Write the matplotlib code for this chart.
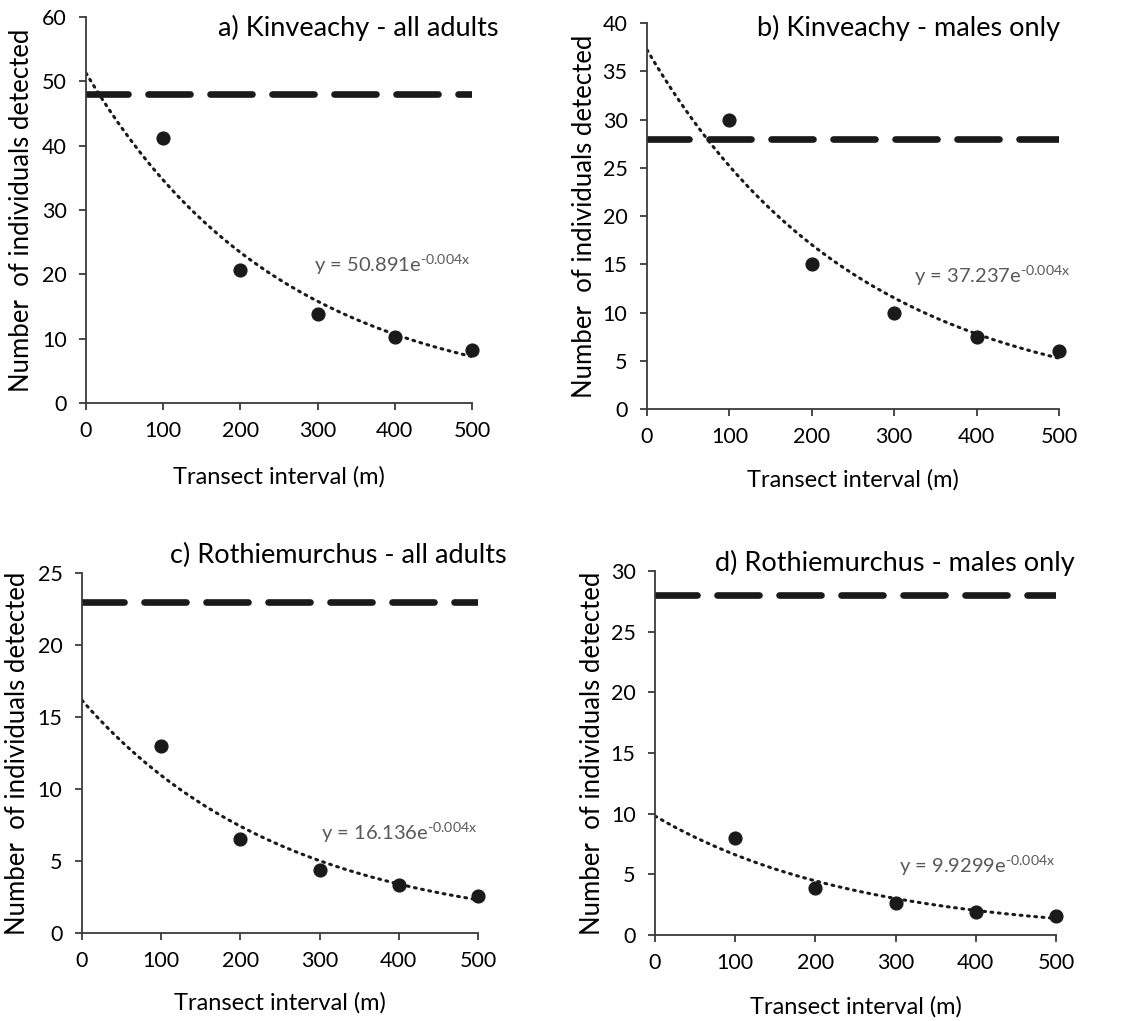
import numpy as np
import matplotlib
matplotlib.use("Agg")
import matplotlib.pyplot as plt

plt.rcParams['font.family'] = ['Lato', 'DejaVu Sans']
plt.rcParams['mathtext.default'] = 'regular'

intervals = [100, 200, 300, 400, 500]

titles = ["a) Kinveachy - all adults", "b) Kinveachy - males only",
          "c) Rothiemurchus - all adults", "d) Rothiemurchus - males only"]
detected = [
    [41.2, 20.6, 13.8, 10.3, 8.2],
    [30.0, 15.0, 10.0, 7.5, 6.0],
    [13.0, 6.5, 4.4, 3.3, 2.6],
    [8.0, 3.9, 2.6, 1.9, 1.6],
]
reference_level = [48, 28, 23, 28]
equations = ["50.891", "37.237", "16.136", "9.9299"]
y_max = [60, 40, 25, 30]
y_step = [10, 5, 5, 5]

# layout per panel, in figure fractions / axes fractions
axes_rects = [
    [0.0766, 0.6053, 0.3437, 0.378],
    [0.5761, 0.5994, 0.3669, 0.378],
    [0.0730, 0.0862, 0.3526, 0.3526],
    [0.5833, 0.0842, 0.3571, 0.3565],
]
title_pos = [(0.444, 0.973), (0.944, 0.973), (0.451, 0.456), (0.957, 0.449)]
eq_pos = [(295, 20.4), (324, 13.06), (302, 6.46), (304, 5.1)]
ylabel_x = [-0.168, -0.152, -0.164, -0.157]
xlabel_y = [-0.192, -0.184, -0.194, -0.198]

fig = plt.figure(figsize=(11.23, 10.21), dpi=100)

for i in range(4):
    ax = fig.add_axes(axes_rects[i])
    x = np.array(intervals, dtype=float)
    y = np.array(detected[i])

    # exponential trendline (least squares on log y)
    k, b = np.polyfit(x, np.log(y), 1)
    xf = np.linspace(0, 500, 200)
    ax.plot(xf, np.exp(b) * np.exp(k * xf), color='#1a1a1a', lw=2.2,
            linestyle=(0, (0.6, 1.8)), dash_capstyle='round', zorder=2)

    ax.plot([0, 500], [reference_level[i]] * 2, color='#1a1a1a', lw=4.8,
            linestyle=(0, (6.3, 3.0)), dash_capstyle='round', zorder=2)

    ax.plot(x, y, 'o', color='#1a1a1a', ms=9.2, clip_on=False, zorder=3)

    ax.set_xlim(0, 500)
    ax.set_ylim(0, y_max[i])
    ax.set_xticks(np.arange(0, 501, 100))
    ax.set_yticks(np.arange(0, y_max[i] + 1, y_step[i]))

    for s in ['top', 'right']:
        ax.spines[s].set_visible(False)
    for s in ['left', 'bottom']:
        ax.spines[s].set_color('#3a3a3a')
        ax.spines[s].set_linewidth(1.3)
    ax.tick_params(axis='y', length=5, width=1.3, color='#3a3a3a', pad=9, labelsize=15.5)
    ax.tick_params(axis='x', length=5, width=1.3, color='#3a3a3a', pad=8, labelsize=15.5)

    ax.set_xlabel("Transect interval (m)", fontsize=17)
    ax.set_ylabel("Number  of individuals detected", fontsize=18.5)
    ax.xaxis.set_label_coords(0.5, xlabel_y[i])
    ax.xaxis.label.set_va('center')
    ax.yaxis.set_label_coords(ylabel_x[i], 0.5)
    ax.yaxis.label.set_va('center')

    ax.text(eq_pos[i][0], eq_pos[i][1], "y = " + equations[i] + "e$^{\u20100.004x}$",
            color='#595959', fontsize=14.5, ha='left', va='baseline')

    fig.text(title_pos[i][0], title_pos[i][1], titles[i], fontsize=19.5,
             ha='right', va='center')

fig.savefig("out.png", dpi=100)
